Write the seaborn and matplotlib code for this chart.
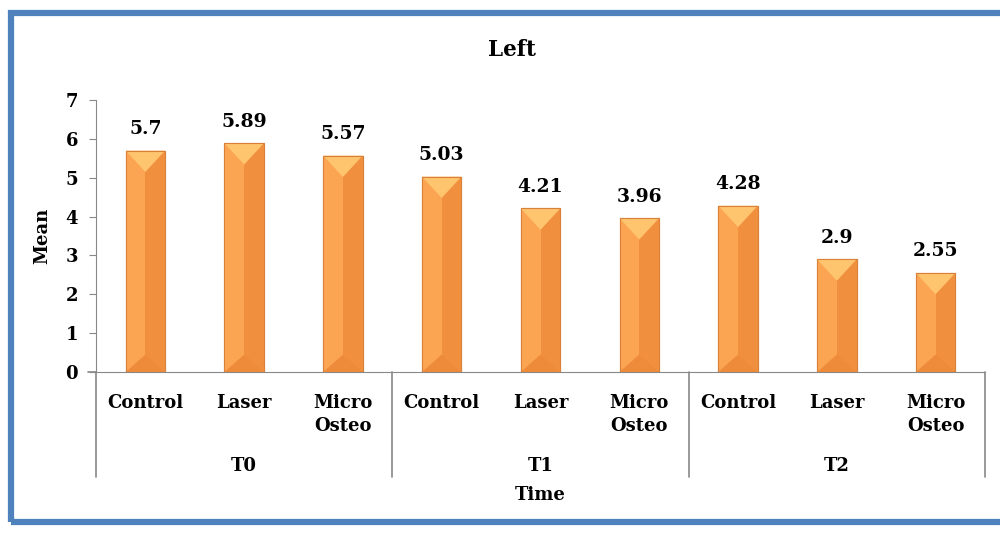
import numpy as np
import pandas as pd
import matplotlib
matplotlib.use("Agg")
import matplotlib.pyplot as plt
import seaborn as sns
from matplotlib.patches import Rectangle, Polygon

# data
times = ["T0", "T1", "T2"]
groups = ["Control", "Laser", "Micro\nOsteo"]
means = [5.7, 5.89, 5.57, 5.03, 4.21, 3.96, 4.28, 2.9, 2.55]
value_labels = ["5.7", "5.89", "5.57", "5.03", "4.21", "3.96", "4.28", "2.9", "2.55"]

df = pd.DataFrame({
    "pos": [f"{t}_{g}" for t in times for g in groups],
    "group": [g for t in times for g in groups],
    "Mean": means,
})

sns.set_style("white")
plt.rcParams["font.family"] = ["DejaVu Serif"]
plt.rcParams["font.weight"] = "bold"
plt.rcParams["text.color"] = "black"
plt.rcParams["axes.labelcolor"] = "black"
plt.rcParams["xtick.labelcolor"] = "black"
plt.rcParams["ytick.labelcolor"] = "black"

fig = plt.figure(figsize=(10, 5.33), dpi=100)
ax = fig.add_axes([0.096, 0.302, 0.889, 0.5103])

sns.barplot(data=df, x="pos", y="Mean", color="#F79646", width=0.4,
            saturation=1, ax=ax, edgecolor="#E0833A", linewidth=0.8)

# bevel look on each bar
for p in ax.patches:
    x0, w, h = p.get_x(), p.get_width(), p.get_height()
    ax.add_patch(Rectangle((x0 + w / 2, 0), w / 2, h, color="#F0903F", zorder=3, lw=0))
    ax.add_patch(Rectangle((x0, 0), w / 2, h, color="#FBA553", zorder=3, lw=0))
    ax.add_patch(Polygon([(x0, h), (x0 + w, h), (x0 + w / 2, h - 0.55)],
                         closed=True, color="#FFC46E", zorder=4, lw=0))
    ax.add_patch(Polygon([(x0, 0), (x0 + w, 0), (x0 + w / 2, 0.45)],
                         closed=True, color="#EE8B3B", zorder=4, lw=0))
    ax.add_patch(Rectangle((x0, 0), w, h, fill=False, ec="#D9803A", lw=0.8, zorder=5))

ax.bar_label(ax.containers[0], labels=value_labels, padding=9,
             fontsize=13.5, fontweight="bold")

ax.set_ylim(0, 7)
ax.set_xlim(-0.5, len(means) - 0.5)
ax.set_yticks(range(0, 8))
ax.tick_params(axis="y", labelsize=13, length=5, color="#888888", direction="out", left=True, pad=8)
ax.tick_params(axis="x", length=0, labelsize=13, pad=16)
ax.set_xticks(range(len(means)))
ax.set_xticklabels(df["group"], fontweight="bold", linespacing=1.35, va="top")
for s in ["top", "right"]:
    ax.spines[s].set_visible(False)
ax.spines["left"].set_color("#888888")
ax.spines["bottom"].set_color("#888888")
ax.set_xlabel("")
ax.set_ylabel("Mean", fontsize=13, fontweight="bold", labelpad=10)

# group labels and separators
trans = ax.get_xaxis_transform()
for i, t in enumerate(times):
    ax.text(i * 3 + 1, -0.345, t, transform=trans, ha="center", va="center",
            fontsize=13, fontweight="bold")
for b in [-0.5, 2.5, 5.5, 8.5]:
    ax.plot([b, b], [0, -0.385], transform=trans, color="#888888", lw=1.2, clip_on=False)
ax.plot([-0.585, -0.5], [0, 0], transform=trans, color="#888888", lw=1.2, clip_on=False)

fig.text(0.512, 0.906, "Left", ha="center", va="center",
         fontsize=15.5, fontweight="bold")
fig.text(0.54, 0.071, "Time", ha="center", va="center",
         fontsize=13, fontweight="bold")

# blue frame
fig.patches.append(Rectangle((0.011, 0.021), 1.2, 0.955, transform=fig.transFigure,
                             fill=False, ec="#4F81BD", lw=4.5, zorder=10))

fig.savefig("out.png", dpi=100)
